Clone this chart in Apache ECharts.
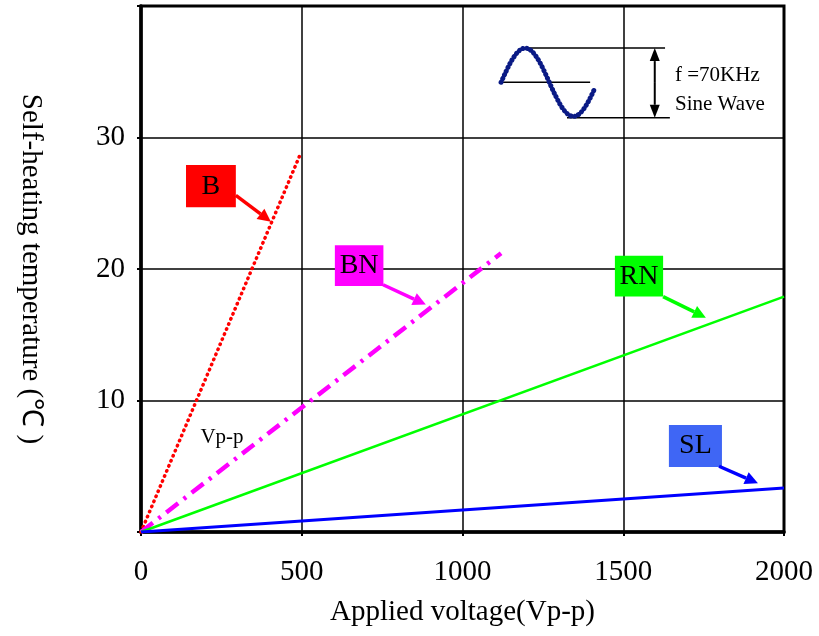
<!DOCTYPE html>
<html>
<head>
<meta charset="utf-8">
<script src="https://cdn.jsdelivr.net/npm/echarts@6/dist/echarts.min.js"></script>
<style>html,body{margin:0;padding:0;background:#fff;}#c{width:819px;height:636px;}</style>
</head>
<body>
<div id="c"></div>
<script>
// ---- data ----
const xTicks = [0, 500, 1000, 1500, 2000];
const yTicks = [0, 10, 20, 30, 40];
const seriesNames = ['B', 'BN', 'RN', 'SL'];
const B_data  = [[0, 0], [495, 28.7]];
const BN_data = [[0, 0], [1120, 21.2]];
const RN_data = [[0, 0], [2000, 17.9]];
const SL_data = [[0, 0], [2000, 3.35]];

// ---- annotations (data coordinates) ----
const labelBoxes = [
  {text: 'B',  fill: '#ff0000', arrow: '#ff0000', box: [140, 27.9, 295, 24.7],  from: [295, 25.6],  to: [404, 23.6]},
  {text: 'BN', fill: '#ff00ff', arrow: '#ff00ff', box: [603, 21.8, 754, 18.7],  from: [753, 18.8],  to: [886, 17.3]},
  {text: 'RN', fill: '#00ff00', arrow: '#00ff00', box: [1474, 21.0, 1624, 17.9], from: [1624, 17.9], to: [1757, 16.3]},
  {text: 'SL', fill: '#3f66f5', arrow: '#0000ff', box: [1642, 8.14, 1807, 4.94], from: [1798, 5.0],  to: [1919, 3.7]}
];
const vppNote = {text: 'Vp-p', at: [252, 7.2]};
const inset = {
  wave: {x0: 1120, period: 300, cycles: 0.97, midY: 34.2, amp: 2.6},
  topLine: [[1195, 36.8], [1630, 36.8]],
  midLine: [[1120, 34.2], [1397, 34.2]],
  botLine: [[1325, 31.5], [1645, 31.5]],
  arrowX: 1598, arrowY: [36.8, 31.5],
  texts: [{t: 'f =70KHz', at: [1661, 34.75]}, {t: 'Sine Wave', at: [1661, 32.5]}]
};

const FONT = '"Liberation Serif", "Times New Roman", serif';
const chart = echarts.init(document.getElementById('c'));

chart.setOption({
  animation: false,
  backgroundColor: '#fff',
  grid: {left: 141, right: 35, top: 6, bottom: 104, show: true, borderColor: '#000', borderWidth: 3, backgroundColor: 'transparent'},
  xAxis: {
    type: 'value', min: xTicks[0], max: xTicks[xTicks.length - 1], interval: 500,
    name: 'Applied voltage(Vp-p)', nameLocation: 'middle', nameGap: 66,
    nameTextStyle: {fontFamily: FONT, fontSize: 29, color: '#000'},
    axisLine: {show: true, onZero: false, lineStyle: {color: '#000', width: 3.5}},
    axisTick: {show: true, length: 4, lineStyle: {color: '#000', width: 2}},
    axisLabel: {fontFamily: FONT, fontSize: 29, color: '#000', margin: 26, formatter: v => String(v)},
    splitLine: {show: true, lineStyle: {color: '#000', width: 1.5}}
  },
  yAxis: {
    type: 'value', min: yTicks[0], max: yTicks[yTicks.length - 1], interval: 10,
    name: 'Self-heating temperature (℃ )', nameLocation: 'middle', nameGap: 96, nameRotate: -90,
    nameTextStyle: {fontFamily: FONT, fontSize: 29, color: '#000'},
    axisLine: {show: true, onZero: false, lineStyle: {color: '#000', width: 3.5}},
    axisTick: {show: true, length: 4, lineStyle: {color: '#000', width: 2}},
    axisLabel: {fontFamily: FONT, fontSize: 29, color: '#000', margin: 16,
      formatter: v => (v === yTicks[0] || v === yTicks[yTicks.length - 1]) ? '' : String(v)},
    splitLine: {show: true, lineStyle: {color: '#000', width: 1.5}}
  },
  series: [
    {name: seriesNames[0], type: 'line', data: B_data, symbol: 'none', z: 5,
      lineStyle: {color: '#ff0000', width: 3.5, type: [0.5, 5], cap: 'round'}},
    {name: seriesNames[1], type: 'line', data: BN_data, symbol: 'none', z: 5,
      lineStyle: {color: '#ff00ff', width: 4.5, type: [15, 7, 3, 7]}},
    {name: seriesNames[2], type: 'line', data: RN_data, symbol: 'none', z: 5,
      lineStyle: {color: '#00ff00', width: 2.5}},
    {name: seriesNames[3], type: 'line', data: SL_data, symbol: 'none', z: 5,
      lineStyle: {color: '#0000ff', width: 3}}
  ]
});

function P(pt) { return chart.convertToPixel({gridIndex: 0}, pt); }

function arrowEls(a, b, color, w, headLen, headHalf) {
  const dx = b[0] - a[0], dy = b[1] - a[1];
  const L = Math.sqrt(dx * dx + dy * dy), ux = dx / L, uy = dy / L;
  const base = [b[0] - ux * headLen, b[1] - uy * headLen];
  return [
    {type: 'line', z: 20, shape: {x1: a[0], y1: a[1], x2: base[0], y2: base[1]}, style: {stroke: color, lineWidth: w}},
    {type: 'polygon', z: 20, shape: {points: [b, [base[0] - uy * headHalf, base[1] + ux * headHalf], [base[0] + uy * headHalf, base[1] - ux * headHalf]]},
      style: {fill: color}}
  ];
}

const g = [];
labelBoxes.forEach(lb => {
  const p1 = P([lb.box[0], lb.box[1]]), p2 = P([lb.box[2], lb.box[3]]);
  g.push({type: 'rect', z: 20, shape: {x: p1[0], y: p1[1], width: p2[0] - p1[0], height: p2[1] - p1[1]}, style: {fill: lb.fill}});
  g.push({type: 'text', z: 21, x: (p1[0] + p2[0]) / 2, y: (p1[1] + p2[1]) / 2,
    style: {text: lb.text, font: '28px ' + FONT, fill: '#000', align: 'center', verticalAlign: 'middle'}});
  g.push(...arrowEls(P(lb.from), P(lb.to), lb.arrow, 3.5, 13, 6.5));
});
const vp = P(vppNote.at);
g.push({type: 'text', z: 21, x: vp[0], y: vp[1], style: {text: vppNote.text, font: '21px ' + FONT, fill: '#000', align: 'center', verticalAlign: 'middle'}});

// inset: sine wave icon
const w = inset.wave;
const pts = [];
const nSteps = 60;
for (let i = 0; i <= nSteps; i++) {
  const t = i / nSteps * w.cycles;
  pts.push(P([w.x0 + t * w.period, w.midY + w.amp * Math.sin(2 * Math.PI * t)]));
}
[inset.topLine, inset.midLine, inset.botLine].forEach(l => {
  const a = P(l[0]), b = P(l[1]);
  g.push({type: 'line', z: 20, shape: {x1: a[0], y1: a[1], x2: b[0], y2: b[1]}, style: {stroke: '#000', lineWidth: 1.5}});
});
g.push({type: 'polyline', z: 21, shape: {points: pts}, style: {stroke: '#0a1a85', lineWidth: 2, fill: null}});
g.push({type: 'polyline', z: 22, shape: {points: pts}, style: {stroke: '#0a1a85', lineWidth: 5, lineDash: [0.1, 4], lineCap: 'round', fill: null}});
const aTop = P([inset.arrowX, inset.arrowY[0]]), aBot = P([inset.arrowX, inset.arrowY[1]]);
const aMid = [aTop[0], (aTop[1] + aBot[1]) / 2];
g.push(...arrowEls(aMid, aTop, '#000', 2, 13, 5));
g.push(...arrowEls(aMid, aBot, '#000', 2, 13, 5));
inset.texts.forEach(tx => {
  const p = P(tx.at);
  g.push({type: 'text', z: 21, x: p[0], y: p[1], style: {text: tx.t, font: '21px ' + FONT, fill: '#000', align: 'left', verticalAlign: 'middle'}});
});

chart.setOption({graphic: {elements: g}});
</script>
</body>
</html>
